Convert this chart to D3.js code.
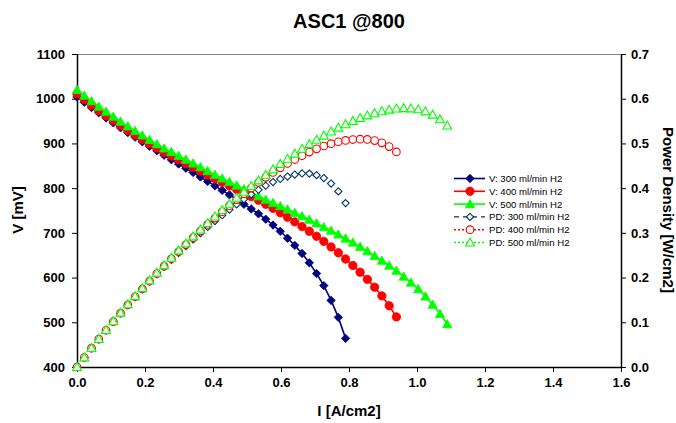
<!DOCTYPE html>
<html><head><meta charset="utf-8">
<script src="https://cdn.jsdelivr.net/npm/d3@7"></script>
<style>
html,body{margin:0;padding:0;background:#fff;}
svg{display:block;font-family:"Liberation Sans",Arial,sans-serif;}
</style></head>
<body><svg id="chart" width="676" height="423"></svg>
<script>
// Current density (A/cm2), shared sampling for all series
const current = [0.0000,0.0214,0.0427,0.0641,0.0854,0.1068,0.1281,0.1495,0.1708,0.1922,
  0.2135,0.2349,0.2562,0.2776,0.2989,0.3203,0.3416,0.3630,0.3843,0.4057,
  0.4270,0.4484,0.4697,0.4911,0.5124,0.5338,0.5551,0.5765,0.5978,0.6192,
  0.6405,0.6619,0.6832,0.7046,0.7259,0.7473,0.7686,0.7900,0.8113,0.8327,
  0.8540,0.8754,0.8967,0.9181,0.9394,0.9608,0.9821,1.0035,1.0248,1.0462,
  1.0675,1.0889];

// Voltage (mV)
const v300 = [1004,992,980,968.5,957,946,935,924.5,914,903.5,
  893.5,883.5,873.5,863.5,854,844.5,835,825,815,805,
  795,785,774.5,764,753.5,742.5,730.5,717.5,703.5,688,
  672,654,633,609,582,549,511,464];
const v400 = [1011,998,985.5,973.5,962,951,940,929.5,919,909,
  899,889.5,880,872,863.5,855,846.5,838,829.5,821,
  813,805,797,789,781,773,764,755,745,735,
  724.5,714,703.5,692.5,681,668.5,655.5,641.5,627,612,
  596,578.5,559,537,512];
const v500 = [1020,1007,994.5,982.5,971,960,949,938.5,928,918,
  908,898.5,889,881,872.5,864,855.5,847,838.5,830,
  822,814,806,798,790,782,774.5,767,760,752.5,
  745,737.5,729.5,721.5,713,705,696.5,687.5,678.5,669,
  659,648.5,638,627,615.5,602.5,589,574.5,558,539.5,
  519,496];

// Power density (W/cm2)
const pd300 = [0,0.0212,0.0418,0.0620,0.0817,0.1010,0.1198,0.1382,0.1561,0.1736,
  0.1908,0.2075,0.2238,0.2397,0.2553,0.2704,0.2852,0.2994,0.3132,0.3265,
  0.3395,0.3520,0.3638,0.3752,0.3861,0.3963,0.4055,0.4136,0.4205,0.4260,
  0.4304,0.4328,0.4325,0.4291,0.4225,0.4102,0.3927,0.3665];
const pd400 = [0,0.0213,0.0421,0.0624,0.0822,0.1015,0.1204,0.1389,0.1570,0.1747,
  0.1919,0.2089,0.2255,0.2420,0.2581,0.2738,0.2892,0.3042,0.3188,0.3330,
  0.3472,0.3609,0.3744,0.3874,0.4002,0.4126,0.4241,0.4352,0.4454,0.4551,
  0.4640,0.4726,0.4806,0.4879,0.4943,0.4995,0.5038,0.5068,0.5087,0.5096,
  0.5090,0.5064,0.5013,0.4930,0.4810];
const pd500 = [0,0.0215,0.0425,0.0629,0.0829,0.1025,0.1216,0.1403,0.1585,0.1764,
  0.1939,0.2110,0.2278,0.2445,0.2608,0.2767,0.2922,0.3074,0.3222,0.3367,
  0.3510,0.3650,0.3786,0.3919,0.4048,0.4174,0.4299,0.4421,0.4543,0.4659,
  0.4772,0.4881,0.4984,0.5083,0.5176,0.5268,0.5353,0.5431,0.5505,0.5570,
  0.5628,0.5677,0.5721,0.5756,0.5782,0.5789,0.5785,0.5765,0.5718,0.5644,
  0.5540,0.5401];

const seriesNames = ["V: 300 ml/min H2","V: 400 ml/min H2","V: 500 ml/min H2",
  "PD: 300 ml/min H2","PD: 400 ml/min H2","PD: 500 ml/min H2"];
const xTicks = [0,0.2,0.4,0.6,0.8,1.0,1.2,1.4,1.6];
const yLeftTicks = [400,500,600,700,800,900,1000,1100];
const yRightTicks = [0,0.1,0.2,0.3,0.4,0.5,0.6,0.7];

const svg = d3.select("#chart");
const L = 77, R = 621, T = 54, B = 367;
const x = d3.scaleLinear().domain([0,1.6]).range([L,R]);
const yL = d3.scaleLinear().domain([400,1100]).range([B,T]);
const yR = d3.scaleLinear().domain([0,0.7]).range([B,T]);

// custom marker shapes
const diamond = {draw(c,s){const r=s; c.moveTo(0,-r);c.lineTo(r,0);c.lineTo(0,r);c.lineTo(-r,0);c.closePath();}};
const tri = {draw(c,s){const r=s; c.moveTo(0,-r);c.lineTo(r,r*0.8);c.lineTo(-r,r*0.8);c.closePath();}};
const circ = {draw(c,s){c.moveTo(s,0);c.arc(0,0,s,0,2*Math.PI);}};

const series = [
  {name:seriesNames[0], vals:v300, axis:yL, color:"#000080", shape:diamond, size:4.2, fill:true, line:"solid"},
  {name:seriesNames[1], vals:v400, axis:yL, color:"#ff0000", shape:circ, size:4.2, fill:true, line:"solid"},
  {name:seriesNames[2], vals:v500, axis:yL, color:"#00ff00", shape:tri, size:4.6, fill:true, line:"solid"},
  {name:seriesNames[3], vals:pd300, axis:yR, color:"#003366", shape:diamond, size:3.6, fill:false, line:"dash"},
  {name:seriesNames[4], vals:pd400, axis:yR, color:"#ff0000", shape:circ, size:3.8, fill:false, line:"dot"},
  {name:seriesNames[5], vals:pd500, axis:yR, color:"#00ff00", shape:tri, size:4.4, fill:false, line:"dot"}
];

// plot top border
svg.append("line").attr("x1",L).attr("x2",R).attr("y1",T+0.5).attr("y2",T+0.5)
  .attr("stroke","#808080").attr("stroke-width",1);

// axes
const fmt1 = d3.format(".1f");
const gx = svg.append("g").attr("transform",`translate(0,${B})`)
  .call(d3.axisBottom(x).tickValues(xTicks).tickFormat(fmt1).tickSize(5).tickPadding(6));
const gl = svg.append("g").attr("transform",`translate(${L},0)`)
  .call(d3.axisLeft(yL).tickValues(yLeftTicks).tickFormat(d3.format("d")).tickSize(5).tickPadding(7));
const gr = svg.append("g").attr("transform",`translate(${R},0)`)
  .call(d3.axisRight(yR).tickValues(yRightTicks).tickFormat(fmt1).tickSize(5).tickPadding(5));
[gx,gl,gr].forEach(g=>{
  g.selectAll("path.domain").attr("stroke","#000").attr("stroke-width",1.5);
  g.selectAll(".tick line").attr("stroke","#000");
  g.selectAll("text").attr("font-size",13).attr("font-weight","bold")
   .attr("font-family","'Liberation Sans',Arial,sans-serif").attr("fill","#000");
});
gx.select("path.domain").attr("d",`M${L},0.5H${R}`);
gl.select("path.domain").attr("d",`M0.5,${T}V${B}`);
gr.select("path.domain").attr("d",`M0.5,${T}V${B}`);

// series
series.forEach((s,si)=>{
  const pts = s.vals.map((v,i)=>[current[i], v]);
  const g = svg.append("g");
  if (si < 3) {
    g.append("path").datum(pts)
      .attr("d", d3.line().x(d=>x(d[0])).y(d=>s.axis(d[1])))
      .attr("fill","none").attr("stroke",s.color).attr("stroke-width",1.6);
  }
  g.selectAll("path.m").data(pts).join("path").attr("class","m")
    .attr("transform",d=>`translate(${x(d[0])},${s.axis(d[1])})`)
    .attr("d", d3.symbol().type(s.shape).size(s.size))
    .attr("fill", s.fill ? s.color : "#fff")
    .attr("stroke", s.color).attr("stroke-width", s.fill ? 0.8 : 1.1);
});

// legend
const lg = svg.append("g");
series.forEach((s,i)=>{
  const yy = 178.5 + i*12.8;
  const dash = s.line==="dash" ? "5,4" : (s.line==="dot" ? "2,2" : null);
  lg.append("line").attr("x1",454).attr("x2",485).attr("y1",yy).attr("y2",yy)
    .attr("stroke", s.color).attr("stroke-width", s.line==="solid"?1.6:1.4)
    .attr("stroke-dasharray", dash);
  lg.append("path").attr("transform",`translate(470,${yy})`)
    .attr("d", d3.symbol().type(s.shape).size(s.size))
    .attr("fill", s.fill ? s.color : "#fff")
    .attr("stroke", s.color).attr("stroke-width", s.fill?0.8:1.1);
  lg.append("text").attr("x",489).attr("y",yy+3.5).text(s.name)
    .attr("font-size",9.6).attr("fill","#000");
});

// titles
svg.append("text").attr("x",349).attr("y",28).attr("text-anchor","middle")
  .attr("font-size",20).attr("font-weight","bold").text("ASC1 @800");
svg.append("text").attr("x",349).attr("y",416).attr("text-anchor","middle")
  .attr("font-size",15).attr("font-weight","bold").text("I [A/cm2]");
svg.append("text").attr("transform","translate(23,210) rotate(-90)").attr("text-anchor","middle")
  .attr("font-size",15).attr("font-weight","bold").text("V [mV]");
svg.append("text").attr("transform","translate(663,210) rotate(90)").attr("text-anchor","middle")
  .attr("font-size",15).attr("font-weight","bold").text("Power Density [W/cm2]");
</script></body></html>
